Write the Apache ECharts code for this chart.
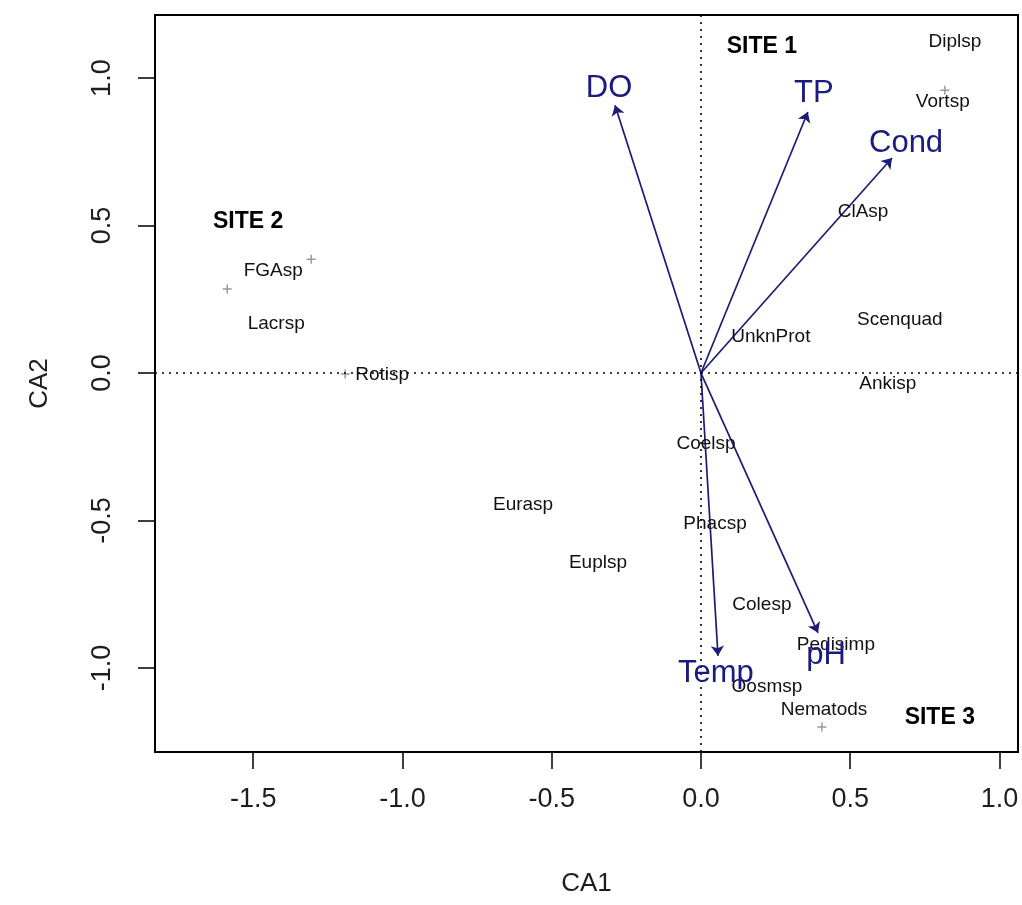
<!DOCTYPE html>
<html>
<head>
<meta charset="utf-8">
<script src="https://cdn.jsdelivr.net/npm/echarts@6/dist/echarts.min.js"></script>
<style>
html, body { margin: 0; background: #ffffff; }
#chart { width: 1022px; height: 905px; }
</style>
</head>
<body>
<div id="chart"></div>
<script>
// species scores (label positions)
var speciesNames = ['Diplsp', 'Vortsp', 'ClAsp', 'Scenquad', 'UnknProt', 'Ankisp', 'FGAsp', 'Lacrsp', 'Rotisp',
    'Coelsp', 'Eurasp', 'Phacsp', 'Euplsp', 'Colesp', 'Pedisimp', 'Oosmsp', 'Nematods']
var speciesX = [0.851, 0.810, 0.543, 0.666, 0.234, 0.626, -1.433, -1.423, -1.068,
    0.017, -0.596, 0.047, -0.345, 0.204, 0.452, 0.221, 0.412]
var speciesY = [1.122, 0.919, 0.546, 0.180, 0.122, -0.037, 0.346, 0.166, -0.007,
    -0.241, -0.447, -0.512, -0.644, -0.786, -0.922, -1.064, -1.142]

// visible "+" markers
var crossX = [-1.306, -1.587, -1.192, 0.817, 0.405]
var crossY = [0.386, 0.285, -0.003, 0.959, -1.200]

// environmental arrows
var envNames = ['DO', 'TP', 'Cond', 'pH', 'Temp']
var envX = [-0.288, 0.358, 0.640, 0.392, 0.057]
var envY = [0.908, 0.885, 0.729, -0.881, -0.959]
var envLabelX = [-0.308, 0.378, 0.687, 0.419, 0.050]
var envLabelY = [0.966, 0.949, 0.780, -0.956, -1.020]

// site annotations
var siteNames = ['SITE 1', 'SITE 2', 'SITE 3']
var siteX = [0.204, -1.517, 0.800]
var siteY = [1.105, 0.512, -1.169]

var xTicks = [-1.5, -1.0, -0.5, 0.0, 0.5, 1.0]
var yTicks = [-1.0, -0.5, 0.0, 0.5, 1.0]

var chart = echarts.init(document.getElementById('chart'))

function pts(xs, ys, names) {
    return xs.map(function (x, i) { return { value: [x, ys[i]], name: names ? names[i] : '' } })
}

var axisFont = { fontFamily: 'Liberation Sans', fontSize: 27, color: '#1e1e1e' }
var hidden = { color: 'rgba(0,0,0,0)', opacity: 1 }

chart.setOption({
    animation: false,
    backgroundColor: '#ffffff',
    grid: {
        left: 155, right: 4, top: 15, bottom: 153,
        show: true, borderColor: '#000', borderWidth: 2
    },
    xAxis: {
        type: 'value', min: -1.829, max: 1.062,
        name: 'CA1', nameLocation: 'middle', nameGap: 119,
        nameTextStyle: { fontFamily: 'Liberation Sans', fontSize: 26, color: '#1e1e1e' },
        axisLine: { show: true, onZero: false, lineStyle: { color: '#000', width: 2 } },
        axisTick: { show: true, length: 17, customValues: xTicks, lineStyle: { color: '#000', width: 1.5 } },
        axisLabel: Object.assign({ margin: 34, customValues: xTicks, formatter: function (v) { return v.toFixed(1) } }, axisFont),
        splitLine: { show: false }
    },
    yAxis: {
        type: 'value', min: -1.285, max: 1.214,
        name: 'CA2', nameLocation: 'middle', nameGap: 102,
        nameTextStyle: { fontFamily: 'Liberation Sans', fontSize: 26, color: '#1e1e1e' },
        axisLine: { show: true, onZero: false, lineStyle: { color: '#000', width: 2 } },
        axisTick: { show: true, length: 17, customValues: yTicks, lineStyle: { color: '#000', width: 1.5 } },
        axisLabel: Object.assign({ margin: 39, rotate: 90, customValues: yTicks, formatter: function (v) { return v.toFixed(1) } }, axisFont),
        splitLine: { show: false }
    },
    series: [
        {
            type: 'scatter',
            symbol: 'path://M-1,-6 L1,-6 L1,-1 L6,-1 L6,1 L1,1 L1,6 L-1,6 L-1,1 L-6,1 L-6,-1 L-1,-1 Z',
            symbolSize: 9,
            itemStyle: { color: '#9a9a9a', opacity: 1 },
            data: pts(crossX, crossY),
            markLine: {
                silent: true,
                symbol: 'none',
                label: { show: false },
                lineStyle: { color: '#000', type: [2, 5], width: 1.6, opacity: 1 },
                data: [{ xAxis: 0 }, { yAxis: 0 }]
            },
            z: 2
        },
        {
            type: 'lines',
            coordinateSystem: 'cartesian2d',
            symbol: ['none', 'arrow'],
            symbolSize: [0, 10],
            lineStyle: { color: '#1c1c74', width: 1.7, opacity: 1 },
            data: envNames.map(function (n, i) { return { name: n, coords: [[0, 0], [envX[i], envY[i]]] } }),
            z: 3
        },
        {
            type: 'scatter',
            symbolSize: 1,
            itemStyle: hidden,
            label: {
                show: true, position: 'inside', formatter: '{b}', opacity: 1,
                fontFamily: 'Liberation Sans', fontSize: 19, color: '#111'
            },
            data: pts(speciesX, speciesY, speciesNames),
            z: 4
        },
        {
            type: 'scatter',
            symbolSize: 1,
            itemStyle: hidden,
            label: {
                show: true, position: 'inside', formatter: '{b}', opacity: 1,
                fontFamily: 'Liberation Sans', fontSize: 31, color: '#1a1a80'
            },
            data: pts(envLabelX, envLabelY, envNames),
            z: 5
        },
        {
            type: 'scatter',
            symbolSize: 1,
            itemStyle: hidden,
            label: {
                show: true, position: 'inside', formatter: '{b}', opacity: 1,
                fontFamily: 'Liberation Sans', fontWeight: 'bold', fontSize: 23, color: '#000'
            },
            data: pts(siteX, siteY, siteNames),
            z: 5
        }
    ]
})
</script>
</body>
</html>
